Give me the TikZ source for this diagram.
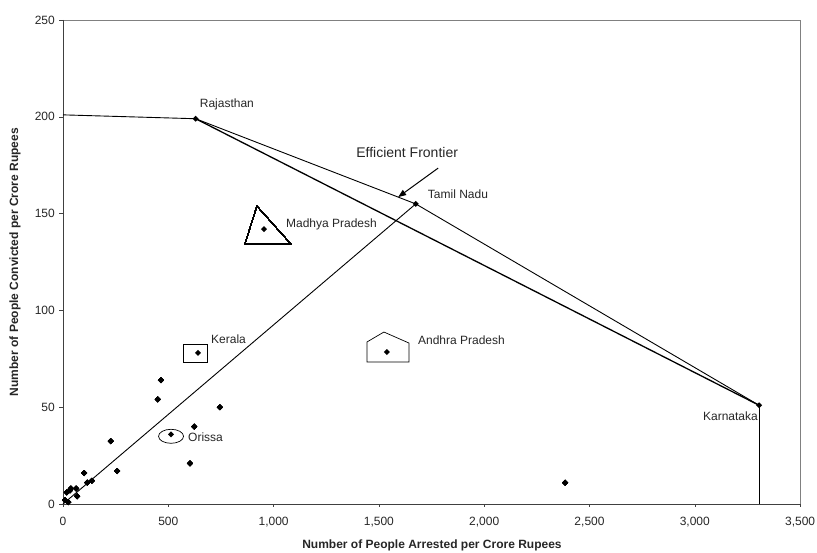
\documentclass[tikz,border=0pt]{standalone}
\usepackage{fontspec}
\setmainfont{Liberation Sans}
\usetikzlibrary{arrows.meta,calc}

\tikzset{
  lab/.style={font=\fontsize{12}{14}\selectfont, inner sep=0pt, text=black!85},
  axlab/.style={font=\bfseries\fontsize{12}{14}\selectfont, text=black!85},
  front/.style={line width=0.9pt},
  ring/.style={line width=0.7pt},
}
\newcommand{\stpoint}[1]{\fill (#1) +(0,3pt) -- +(3pt,0) -- +(0,-3pt) -- +(-3pt,0) -- cycle;}

\begin{document}
\begin{tikzpicture}[x=1pt,y=1pt]
  \useasboundingbox (0,0) rectangle (817,552);
  \begin{scope}[shift={(63pt,48pt)},x=0.2106pt,y=1.936pt]
    \coordinate (O) at (0,0);
    \coordinate (yTop) at (0,201);
    \coordinate (Raj) at (630,199);
    \coordinate (TN) at (1675,155);
    \coordinate (Kar) at (3305,51);
    \coordinate (KarFoot) at (3305,0);
    \coordinate (MP) at (954,142);
    \coordinate (Ker) at (641,78);
    \coordinate (AP) at (1538,78.5);
    \coordinate (Ori) at (513,36);
    % frame, ticks
    \draw[gray, line width=0.8pt] (0,250) -- (3500,250) -- (3500,0);
    \draw[black!75, line width=1pt] (0,250) -- (O) -- (3500,0);
    \foreach \x/\t in {0/0,500/500,1000/{1,000},1500/{1,500},2000/{2,000},2500/{2,500},3000/{3,000},3500/{3,500}}
      \draw[black!75] (\x,0) -- ++(0,-3pt) node[lab, below=10pt] (xt\x) {\t};
    \foreach \y in {0,50,...,250}
      \draw[black!75] (0,\y) -- ++(-4pt,0) node[lab, left=4pt] (yt\y) {\y};
    % frontier
    \draw[front] (yTop) -- (Raj);
    \draw[line width=1.3pt] (Raj) -- (Kar);
    \draw[front] (Raj) -- (TN) -- (Kar);
    \draw[front] (O) -- (TN);
    \draw[front] (Kar) -- (KarFoot);
    % states
    \foreach \p in {Raj,TN,Kar,MP,Ker,AP,Ori}
      \stpoint{\p}
    \foreach \x/\y in {465/64,450/54,745/50,623/40,603/21,227/32.5,257/17,100/16,137/12,115/11,
                       37/8,62/8,18/6,67/4,25/1,10/2,33/7,2384/11}
      \stpoint{\x,\y}
    \draw[ring] (MP) ++(-7pt,23pt) -- ++(-12pt,-38pt) -- ++(46pt,0) -- cycle;
    \draw[ring] ($(Ker)+(-15pt,-9pt)$) rectangle ($(Ker)+(9pt,9pt)$);
    \draw[ring] (AP) ++(-20pt,-10pt) -- ++(0,20pt) -- ++(17pt,10pt) -- ++(25pt,-11pt) -- ++(0,-19pt) -- cycle;
    \draw[ring] ($(Ori)+(0,-2pt)$) ellipse [x radius=12.5pt, y radius=7pt];
    \node[lab, anchor=west] (lRaj) at ($(Raj)+(4pt,14pt)$) {Rajasthan};
    \node[lab, anchor=west] (lTN) at ($(TN)+(12pt,10pt)$) {Tamil Nadu};
    \node[lab, anchor=west] (lMP) at ($(MP)+(22pt,5pt)$) {Madhya Pradesh};
    \node[lab, anchor=west] (lKer) at ($(Ker)+(13pt,14pt)$) {Kerala};
    \node[lab, anchor=west] (lAP) at ($(AP)+(31pt,12pt)$) {Andhra Pradesh};
    \node[lab, anchor=west] (lOri) at ($(Ori)+(17pt,-3pt)$) {Orissa};
    \node[lab, anchor=east] (lKar) at ($(Kar)+(-1pt,-11pt)$) {Karnataka};
    % label for the frontier
    \coordinate (efTip) at ($(Raj)!0.92!(TN)$);
    \coordinate (efTail) at ($(efTip)+(40pt,29pt)$);
    \draw[-{Triangle[length=8pt,width=6pt]}, line width=1pt] (efTail) -- (efTip);
    \node[font=\fontsize{14}{16}\selectfont, text=black!85] (ef) at ($(efTip)+(9pt,45pt)$) {Efficient Frontier};
  \end{scope}
  \node[axlab, rotate=90] (ytitle) at (15,290) {Number of People Convicted per Crore Rupees};
  \node[axlab] (xtitle) at (432,7) {Number of People Arrested per Crore Rupees};
\end{tikzpicture}
\end{document}
